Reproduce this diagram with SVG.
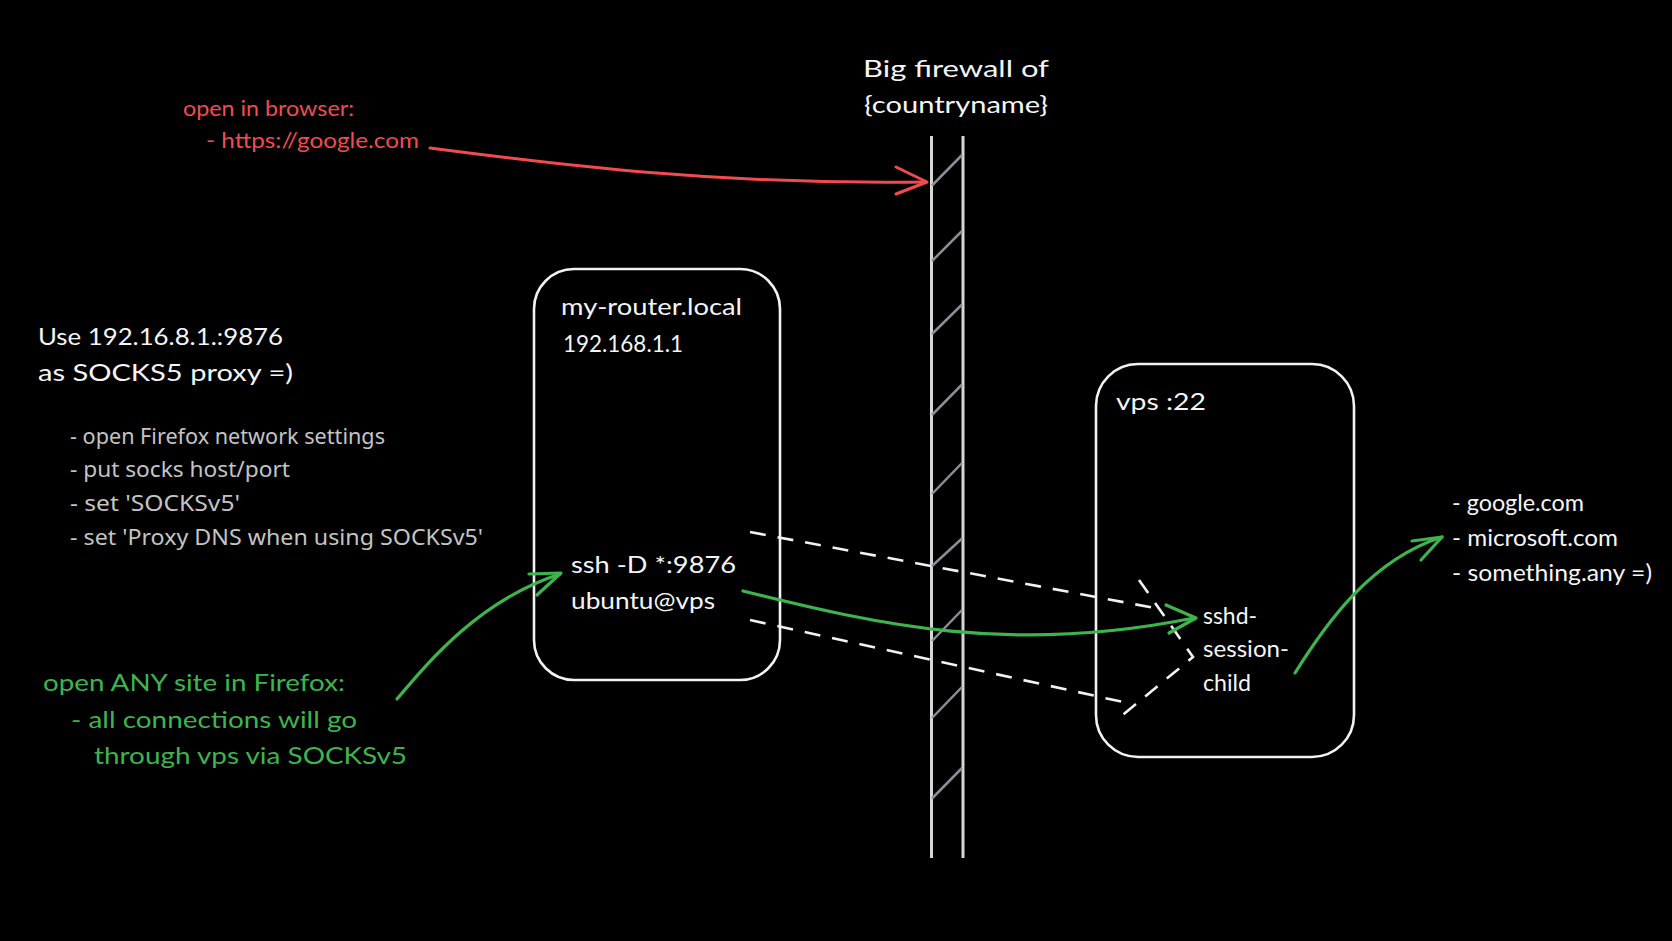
<svg xmlns="http://www.w3.org/2000/svg" width="1672" height="941" viewBox="0 0 1672 941">
<defs>
<style>
.bg{fill:#000}
.t{font-family:Lato,"Liberation Sans",sans-serif;font-size:24px;fill:#f5f5f5}
.red{fill:#f24b4f;font-size:22px}
.grn{fill:#3db54c}
.gray{font-family:"Noto Sans",Lato,sans-serif;font-size:22px;fill:#c4c4c4}
.box{fill:none;stroke:#f2f2f2;stroke-width:2.6}
.rail{stroke:#d6d6d6;stroke-width:3;fill:none}
.hatch{stroke:#8a8f94;stroke-width:2.5;fill:none}
.arR{fill:none;stroke:#f24b4f;stroke-width:3;stroke-linecap:round;stroke-linejoin:round}
.arG{fill:none;stroke:#3db54c;stroke-width:3.2;stroke-linecap:round;stroke-linejoin:round}
.dash{fill:none;stroke:#f2f2f2;stroke-width:2.6;stroke-dasharray:16 12}
</style>
</defs>
<rect class="bg" x="0" y="0" width="1672" height="941"/>

<g id="firewall">
<line class="rail" x1="931.5" y1="136" x2="931.5" y2="858"/>
<line class="rail" x1="963" y1="136" x2="963" y2="858"/>
<g class="hatch">
<line x1="932" y1="185.5" x2="962" y2="155"/>
<line x1="932" y1="261" x2="962" y2="231"/>
<line x1="932" y1="334" x2="962" y2="304.5"/>
<line x1="932" y1="415" x2="962" y2="384.5"/>
<line x1="932" y1="494" x2="962" y2="463"/>
<line x1="932" y1="566" x2="962" y2="538.5"/>
<line x1="932" y1="641" x2="962" y2="610"/>
<line x1="932" y1="718" x2="962" y2="687"/>
<line x1="932" y1="798.5" x2="962" y2="768"/>
</g>
<text class="t" x="956" y="77" text-anchor="middle" textLength="186" lengthAdjust="spacingAndGlyphs">Big firewall of</text>
<text class="t" x="956" y="113" text-anchor="middle" textLength="184" lengthAdjust="spacingAndGlyphs">{countryname}</text>
</g>

<g id="browser-note">
<text class="t red" x="183" y="116" textLength="171" lengthAdjust="spacingAndGlyphs">open in browser:</text>
<text class="t red" x="206" y="148" textLength="213" lengthAdjust="spacingAndGlyphs">- https://google.com</text>
</g>

<g id="socks-note">
<text class="t" x="38" y="345" textLength="245" lengthAdjust="spacingAndGlyphs">Use 192.16.8.1.:9876</text>
<text class="t" x="38" y="381" textLength="255" lengthAdjust="spacingAndGlyphs">as SOCKS5 proxy =)</text>
<text class="gray" x="70" y="443.5" textLength="315" lengthAdjust="spacingAndGlyphs">- open Firefox network settings</text>
<text class="gray" x="70" y="477" textLength="220" lengthAdjust="spacingAndGlyphs">- put socks host/port</text>
<text class="gray" x="70" y="511" textLength="170" lengthAdjust="spacingAndGlyphs">- set 'SOCKSv5'</text>
<text class="gray" x="70" y="544.5" textLength="413" lengthAdjust="spacingAndGlyphs">- set 'Proxy DNS when using SOCKSv5'</text>
</g>

<g id="firefox-note">
<text class="t grn" x="43" y="691" textLength="302" lengthAdjust="spacingAndGlyphs">open ANY site in Firefox:</text>
<text class="t grn" x="71" y="728" textLength="286" lengthAdjust="spacingAndGlyphs">- all connections will go</text>
<text class="t grn" x="94" y="764" textLength="313" lengthAdjust="spacingAndGlyphs">through vps via SOCKSv5</text>
</g>

<g id="router">
<rect class="box" x="534" y="269" width="246" height="411" rx="40" ry="40"/>
<text class="t" x="561" y="315" textLength="181" lengthAdjust="spacingAndGlyphs">my-router.local</text>
<text class="t" x="563" y="352" textLength="120" lengthAdjust="spacingAndGlyphs">192.168.1.1</text>
<text class="t" x="571" y="573" textLength="165" lengthAdjust="spacingAndGlyphs">ssh -D *:9876</text>
<text class="t" x="571" y="609" textLength="144" lengthAdjust="spacingAndGlyphs">ubuntu@vps</text>
</g>

<g id="vps">
<rect class="box" x="1096" y="364" width="258" height="393" rx="42" ry="42"/>
<text class="t" x="1116" y="410" textLength="90" lengthAdjust="spacingAndGlyphs">vps :22</text>
<text class="t" x="1203" y="624" textLength="54" lengthAdjust="spacingAndGlyphs">sshd-</text>
<text class="t" x="1203" y="657" textLength="86" lengthAdjust="spacingAndGlyphs">session-</text>
<text class="t" x="1203" y="691" textLength="48" lengthAdjust="spacingAndGlyphs">child</text>
</g>

<g id="sites">
<text class="t" x="1452" y="511" textLength="132" lengthAdjust="spacingAndGlyphs">- google.com</text>
<text class="t" x="1452" y="546" textLength="166" lengthAdjust="spacingAndGlyphs">- microsoft.com</text>
<text class="t" x="1452" y="581" textLength="200" lengthAdjust="spacingAndGlyphs">- something.any =)</text>
</g>

<g id="connectors">
<path class="arR" d="M430,148 C560,165 720,185 926,182"/>
<path class="arR" d="M896,167 L927,182 L896,194"/>

<path class="dash" d="M750,532 L1160,609"/>
<path class="dash" d="M750,620 L1123,702"/>
<path class="dash" d="M1139,580 L1193,657 L1119,718"/>

<path class="arG" d="M743,591 C880,625 1010,655 1194,618"/>
<path class="arG" d="M1166,605 L1196,618 L1169,633"/>

<path class="arG" d="M397,699 C430,660 480,600 560,574"/>
<path class="arG" d="M529,574 L561,573 L537,595"/>

<path class="arG" d="M1295,673 C1325,625 1370,560 1442,537"/>
<path class="arG" d="M1412,541 L1442,537 L1421,560"/>
</g>
</svg>
